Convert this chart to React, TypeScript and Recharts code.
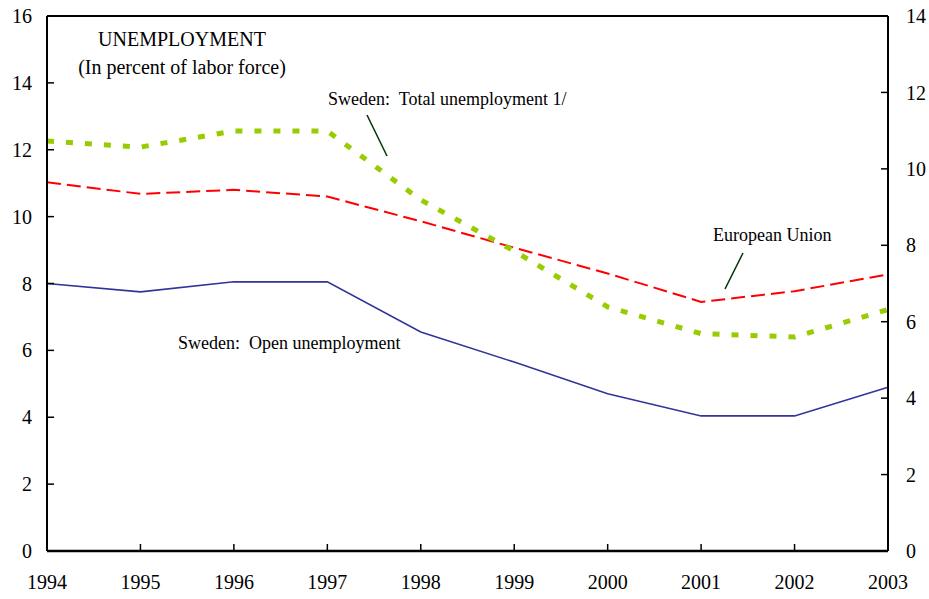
import React from 'react';
import { LineChart, Line, XAxis, YAxis, ReferenceLine, Customized } from 'recharts';

const years = ['1994', '1995', '1996', '1997', '1998', '1999', '2000', '2001', '2002', '2003'];
const swedenTotal = [12.26, 12.08, 12.56, 12.56, 10.5, 8.97, 7.3, 6.5, 6.4, 7.22];
const europeanUnion = [11.03, 10.68, 10.8, 10.6, 9.86, 9.07, 8.3, 7.45, 7.77, 8.27];
const swedenOpen = [8.0, 7.75, 8.05, 8.05, 6.55, 5.65, 4.7, 4.04, 4.04, 4.9];

const leftTicks = [0, 2, 4, 6, 8, 10, 12, 14, 16];
const rightTicks = [0, 2, 4, 6, 8, 10, 12, 14];

const data = years.map((year, i) => ({
  year,
  total: swedenTotal[i],
  eu: europeanUnion[i],
  open: swedenOpen[i],
}));

const font = '"Liberation Serif", "Times New Roman", serif';
const tickStyle = { fontFamily: font, fontSize: 20, fill: '#000' };

const Notes = () => (
  <g fontFamily={font} fill="#000">
    <text x={182} y={46} fontSize={20} textAnchor="middle">UNEMPLOYMENT</text>
    <text x={182} y={74} fontSize={20} textAnchor="middle">(In percent of labor force)</text>
    <text x={328} y={105} fontSize={18} style={{ whiteSpace: 'pre' }}>Sweden:  Total unemployment 1/</text>
    <text x={713} y={241} fontSize={18}>European Union</text>
    <text x={178} y={349} fontSize={18} style={{ whiteSpace: 'pre' }}>Sweden:  Open unemployment</text>
    <line x1={367} y1={115} x2={387} y2={156} stroke="#003300" strokeWidth={1.5} />
    <line x1={743} y1={253} x2={725} y2={289} stroke="#003300" strokeWidth={1.5} />
  </g>
);

export default function App() {
  return (
    <div style={{ position: 'absolute', left: 0, top: 0 }}>
      <LineChart width={929} height={599} data={data} margin={{ top: 16, right: 0, bottom: 0, left: 0 }}>
        <XAxis
          dataKey="year"
          height={48}
          axisLine={{ stroke: '#000', strokeWidth: 2.5 }}
          tickLine={{ stroke: '#000', strokeWidth: 1.5 }}
          tickSize={-7}
          tickMargin={31}
          tick={tickStyle}
          interval={0}
        />
        <YAxis
          yAxisId="left"
          width={47}
          domain={[0, 16]}
          ticks={leftTicks}
          axisLine={{ stroke: '#000', strokeWidth: 2 }}
          tickLine={{ stroke: '#000', strokeWidth: 1.5 }}
          tickSize={-7}
          tickMargin={22}
          tick={tickStyle}
          interval={0}
        />
        <YAxis
          yAxisId="right"
          orientation="right"
          width={41}
          type="number"
          domain={[0, 14]}
          allowDataOverflow
          ticks={rightTicks}
          axisLine={{ stroke: '#000', strokeWidth: 2 }}
          tickLine={{ stroke: '#000', strokeWidth: 1.5 }}
          tickSize={-7}
          tickMargin={25}
          tick={{ ...tickStyle, textAnchor: 'start' }}
          interval={0}
        />
        <ReferenceLine yAxisId="left" y={16} stroke="#000" strokeWidth={2} />
        <Line
          yAxisId="left"
          dataKey="open"
          stroke="#333399"
          strokeWidth={1.6}
          dot={false}
          activeDot={false}
          isAnimationActive={false}
        />
        <Line
          yAxisId="left"
          dataKey="eu"
          stroke="#FF0000"
          strokeWidth={2}
          strokeDasharray="14 6"
          dot={false}
          activeDot={false}
          isAnimationActive={false}
        />
        <Line
          yAxisId="left"
          dataKey="total"
          stroke="#99CC00"
          strokeWidth={5}
          strokeDasharray="7 12"
          dot={false}
          activeDot={false}
          isAnimationActive={false}
        />
        <Customized component={Notes} />
      </LineChart>
    </div>
  );
}
